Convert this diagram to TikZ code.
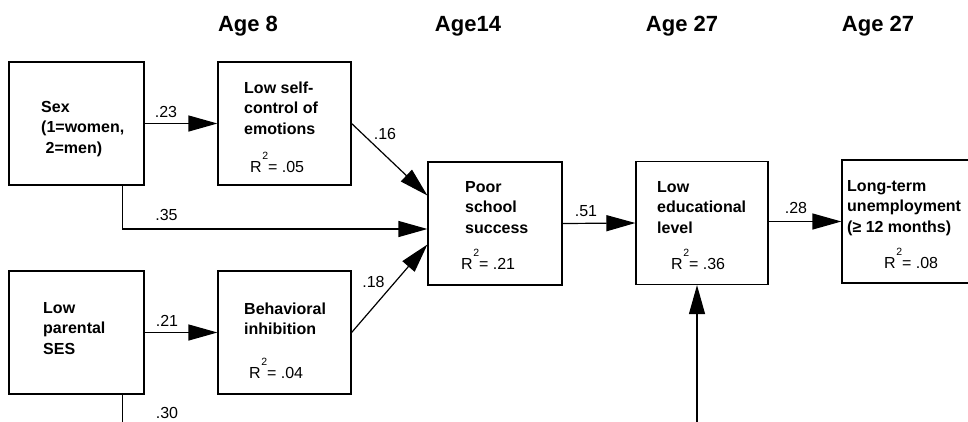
\documentclass[tikz,border=0pt]{standalone}
\usepackage{fontspec}
\setmainfont{Liberation Sans}
\usetikzlibrary{arrows.meta}

% stacked left-aligned lines whose baseline is that of the first line
\newcommand{\stacklines}[1]{\begin{tabular}[t]{@{}l@{}}#1\end{tabular}}
% explained variance label
\newcommand{\rsq}[1]{R\kern0.5pt\raisebox{12.5pt}{\fontsize{10.5}{10.5}\selectfont 2}= #1}

\begin{document}
\begin{tikzpicture}[x=1pt,y=-1pt,
  box/.style={draw, line width=1.2pt, inner sep=0pt, minimum height=123pt},
  boxtext/.style={anchor=base west, inner sep=0pt, font=\fontsize{16}{20.5}\selectfont\bfseries},
  rtext/.style={anchor=base west, inner sep=0pt, font=\fontsize{16}{18}\selectfont},
  coef/.style={anchor=base, inner sep=0pt, font=\fontsize{16}{18}\selectfont},
  age/.style={anchor=base, inner sep=0pt, font=\fontsize{22}{26}\selectfont\bfseries},
  link/.style={line width=1.2pt},
  arr/.style={line width=1.2pt, -{Triangle[length=29pt,width=16pt]}}]

\fill[white] (0,0) rectangle (968,421);
\useasboundingbox (0,0) rectangle (968,421);

% column headings
\node[age] (h1) at (248,31) {Age 8};
\node[age] (h2) at (468,31) {Age14};
\node[age] (h3) at (682,31) {Age 27};
\node[age] (h4) at (878,31) {Age 27};

% boxes
\node[box, minimum width=135pt] (sex)     at (76.5,123.5) {};
\node[box, minimum width=133pt] (selfctl) at (284.5,123.5) {};
\node[box, minimum width=135pt] (ses)     at (76.5,332.5) {};
\node[box, minimum width=133pt] (inhib)   at (284.5,332.5) {};
\node[box, minimum width=134pt] (poor)    at (495,223.5) {};
\node[box, minimum width=132pt] (edu)     at (702,223) {};
\node[box, minimum width=138pt] (lt)      at (911,221.5) {};

% box texts
\node[boxtext] (sext) at (41,112) {\stacklines{Sex\\(1=women,\\\ 2=men)}};
\node[boxtext] (selfctlt) at (244,93) {\stacklines{Low self-\\control of\\emotions}};
\node[rtext] (selfctlr) at (250,172) {\rsq{.05}};
\node[boxtext] (sest) at (43,313) {\stacklines{Low\\parental\\SES}};
\node[boxtext] (inhibt) at (244,314) {\stacklines{Behavioral\\inhibition}};
\node[rtext] (inhibr) at (249,378) {\rsq{.04}};
\node[boxtext] (poort) at (465,192) {\stacklines{Poor\\school\\success}};
\node[rtext] (poorr) at (461,269) {\rsq{.21}};
\node[boxtext] (edut) at (657,192) {\stacklines{Low\\educational\\level}};
\node[rtext] (edur) at (671,269) {\rsq{.36}};
\node[boxtext] (ltt) at (847,191) {\stacklines{Long-term\\unemployment\\(≥ 12 months)}};
\node[rtext] (ltr) at (884,268) {\rsq{.08}};

% free ends running off the lower edge
\coordinate (sesdown) at (122.5,425);
\coordinate (eduup) at (697,425);

% paths
\draw[arr] (sex.east) -- (selfctl.west);
\draw[arr] (ses.east) -- (inhib.west);
\draw[arr] (selfctl.east) -- ([yshift=28pt]poor.west);
\draw[arr] (inhib.east) -- ([yshift=-21pt]poor.west);
\draw[arr] ([xshift=46pt]sex.south) |- ([yshift=-5.5pt]poor.west);
\draw[link] ([xshift=46pt]ses.south) -- (sesdown);
\draw[arr] (poor.east) -- (edu.west);
\draw[arr] (edu.east |- lt.west) -- (lt.west);
\draw[arr] (eduup) -- ([xshift=-5pt]edu.south);

% path coefficients
\node[coef] (c23) at (166,117) {.23};
\node[coef] (c35) at (166.5,220) {.35};
\node[coef] (c21) at (167,326) {.21};
\node[coef] (c30) at (167,418) {.30};
\node[coef] (c16) at (385,139) {.16};
\node[coef] (c18) at (373.5,287) {.18};
\node[coef] (c51) at (586,216) {.51};
\node[coef] (c28) at (796,213) {.28};
\end{tikzpicture}
\end{document}
